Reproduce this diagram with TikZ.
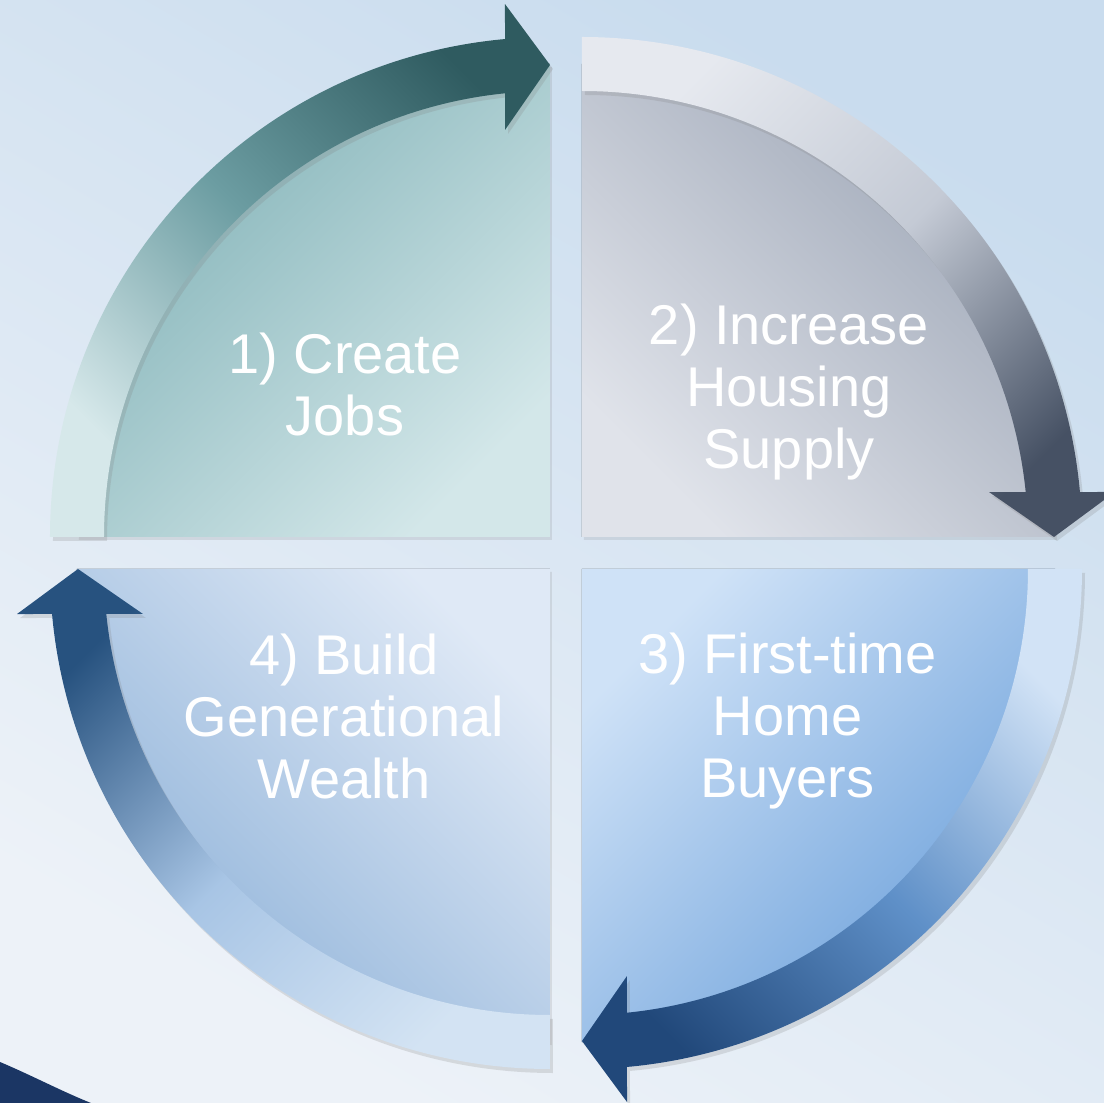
\documentclass[tikz,border=0pt]{standalone}
\usepackage{fontspec}
\setmainfont{Liberation Sans}
\usetikzlibrary{shadows}
% background
\definecolor{bgtop}{HTML}{C9DCEE}
\definecolor{bgbot}{HTML}{EDF2F8}
\definecolor{navy}{HTML}{1B3664}
% 1) teal
\definecolor{onebl}{HTML}{D6E8EA}
\definecolor{onebm}{HTML}{6C9DA2}
\definecolor{onebd}{HTML}{2F5B60}
\definecolor{onefd}{HTML}{80B1B6}
\definecolor{onefl}{HTML}{D3E7E9}
% 2) slate
\definecolor{twobl}{HTML}{E6E9EF}
\definecolor{twobm}{HTML}{C4CAD5}
\definecolor{twobd}{HTML}{465164}
\definecolor{twofd}{HTML}{9CA5B5}
\definecolor{twofl}{HTML}{E0E3EA}
% 3) blue
\definecolor{threebl}{HTML}{D2E3F6}
\definecolor{threebm}{HTML}{5F90C8}
\definecolor{threebd}{HTML}{21487A}
\definecolor{threefd}{HTML}{6A9FDA}
\definecolor{threefl}{HTML}{CFE2F7}
% 4) pale blue
\definecolor{fourbl}{HTML}{D3E3F3}
\definecolor{fourbm}{HTML}{A8C5E5}
\definecolor{fourbd}{HTML}{27527F}
\definecolor{fourfd}{HTML}{8DB1D8}
\definecolor{fourfl}{HTML}{DFE9F6}
\begin{document}
\begin{tikzpicture}[x=1pt,y=1pt,
  stage/.style={text=white,align=center,inner sep=0pt,
    font=\fontsize{56}{62}\selectfont},
  bandshadow/.style={drop shadow={opacity=0.22,shadow xshift=3pt,shadow yshift=-4pt}}]
\useasboundingbox (-566,-550) rectangle (538,553);
\fill[top color=bgtop,bottom color=bgbot,shading angle=-30] (-566,-550) rectangle (538,553);
\fill[navy] (-566,-509) .. controls (-535,-522) and (-505,-538) .. (-475,-550) -- (-566,-550) -- cycle;
%
\foreach \cx/\cy/\r/\q in {-16/16/0/one,16/16/-90/two,16/-16/-180/three,-16/-16/-270/four}{
  \pgfmathsetmacro\fa{45+\r}
  \pgfmathsetmacro\ba{-45+\r}
  \begin{scope}[shift={(\cx,\cy)}]
    \fill[drop shadow={opacity=0.18,shadow xshift=2pt,shadow yshift=-3pt},
      top color=\q fd,bottom color=\q fl,shading angle=\fa]
      (0,0) -- (180+\r:473) arc[start angle=180+\r,end angle=90+\r,radius=473] -- cycle;
    \path[bandshadow,top color=\q bd,bottom color=\q bl,middle color=\q bm,shading angle=\ba]
      (180+\r:500) arc[start angle=180+\r,end angle=95.16+\r,radius=500]
      -- (94.83+\r:534.9) -- (90+\r:472) -- (96.31+\r:409.5) -- (95.79+\r:446)
      arc[start angle=95.79+\r,end angle=180+\r,radius=446] -- cycle;
  \end{scope}
}
%
\node[stage] (jobs) at (-221,168.5) {1) Create\\Jobs};
\node[stage] (supply) at (223,160.5) {2) Increase\\Housing\\Supply};
\node[stage] (buyers) at (221.5,-168) {3) First-time\\Home\\Buyers};
\node[stage] (wealth) at (-222,-163.5) {4) Build\\Generational\\Wealth};
\end{tikzpicture}
\end{document}
